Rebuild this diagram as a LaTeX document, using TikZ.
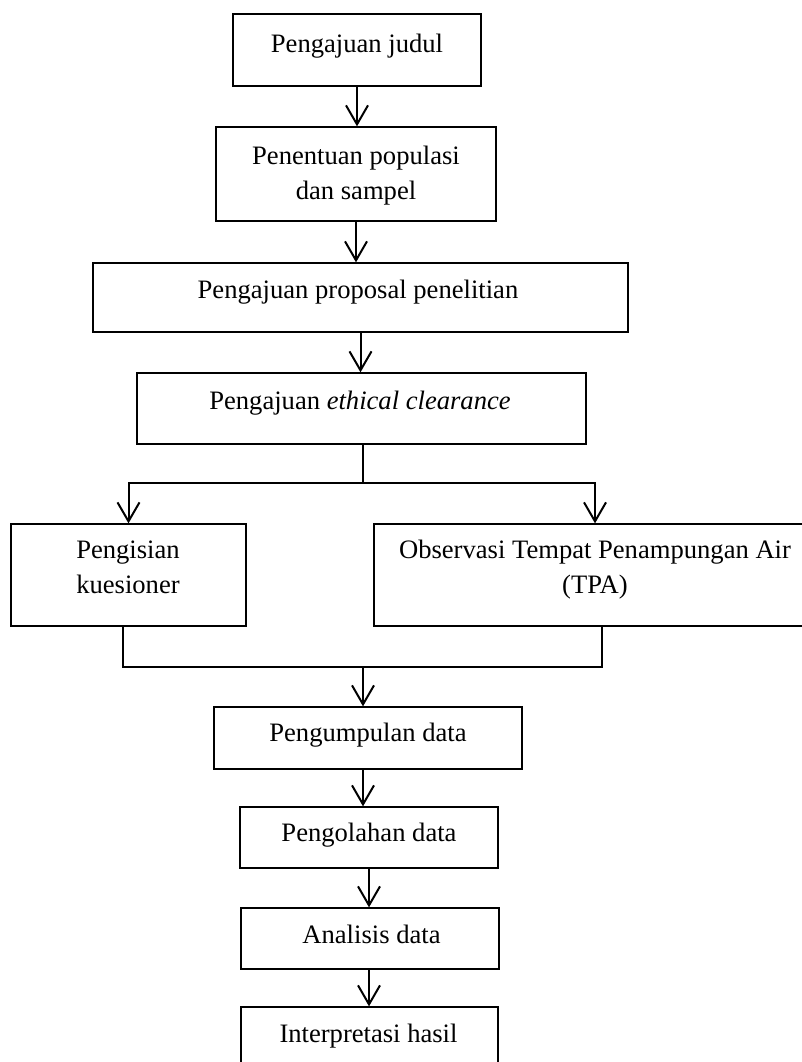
\documentclass[tikz,border=0pt]{standalone}
\usepackage{fontspec}
\setmainfont{Liberation Serif}
\usetikzlibrary{arrows.meta}
% strut giving every text line the same height and depth
\newcommand\lnstrut{\rule[-5.8pt]{0pt}{23.4pt}}
\tikzset{
  box/.style={draw, line width=1.3pt, inner sep=0pt},
  lbl/.style={inner sep=0pt, align=center, font=\fontsize{26.6}{35}\selectfont},
  flow/.style={line width=2pt},
  arr/.style={flow, -{Straight Barb[length=19pt,width=22pt]}},
}
\begin{document}
\begin{tikzpicture}[x=1pt,y=-1pt]
\useasboundingbox (0,0) rectangle (802,1062);

% boxes
\node[box, minimum width=248pt, minimum height=72pt] (b1) at (357,50) {};
\node[box, minimum width=280pt, minimum height=94pt] (b2) at (356,174) {};
\node[box, minimum width=535pt, minimum height=69pt] (b3) at (360.5,297.5) {};
\node[box, minimum width=449pt, minimum height=71pt] (b4) at (361.5,408.5) {};
\node[box, minimum width=235pt, minimum height=102pt] (b5) at (128.5,575) {};
\node[box, minimum width=442pt, minimum height=102pt] (b6) at (595,575) {};
\node[box, minimum width=308pt, minimum height=62pt] (b7) at (368,738) {};
\node[box, minimum width=258pt, minimum height=61pt] (b8) at (369,837.5) {};
\node[box, minimum width=258pt, minimum height=61pt] (b9) at (370,938.5) {};
\node[box, minimum width=257pt, minimum height=76pt] (b10) at (369.5,1045) {};

% texts
\node[lbl] (t1) at (357,46.5) {\lnstrut Pengajuan judul};
\node[lbl] (t2) at (356,176) {\lnstrut Penentuan populasi\\\lnstrut dan sampel};
\node[lbl] (t3) at (358,292.5) {\lnstrut Pengajuan proposal penelitian};
\node[lbl] (t4) at (360,403) {\lnstrut Pengajuan \textit{ethical clearance}};
\node[lbl] (t5) at (128,570) {\lnstrut Pengisian\\\lnstrut kuesioner};
\node[lbl] (t6) at (595,569.5) {\lnstrut Observasi Tempat Penampungan Air\\\lnstrut (TPA)};
\node[lbl] (t7) at (368,735) {\lnstrut Pengumpulan data};
\node[lbl] (t8) at (369,835) {\lnstrut Pengolahan data};
\node[lbl] (t9) at (371.5,937) {\lnstrut Analisis data};
\node[lbl] (t10) at (368.5,1036.5) {\lnstrut Interpretasi hasil};

% straight arrows
\draw[arr] (b1.south) -- (b1.south |- b2.north);
\draw[arr] (b2.south) -- (b2.south |- b3.north);
\draw[arr] (b3.south) -- (b3.south |- b4.north);

% split into two branches
\coordinate (split) at (363,483);
\draw[flow] (b4.south -| split) -- (split);
\draw[arr] (split) -| (b5.north);
\draw[arr] (split) -| (b6.north);

% join of the two branches
\coordinate (join) at (363,667);
\coordinate (l5) at (123,626);
\coordinate (l6) at (602,626);
\draw[flow] (l5) |- (join);
\draw[flow] (l6) |- (join);
\draw[arr] (join) -- (join |- b7.north);

\draw[arr] (b7.south -| join) -- (join |- b8.north);
\draw[arr] (b8.south) -- (b8.south |- b9.north);
\draw[arr] (b9.south -| b8.south) -- (b8.south |- b10.north);
\end{tikzpicture}
\end{document}
